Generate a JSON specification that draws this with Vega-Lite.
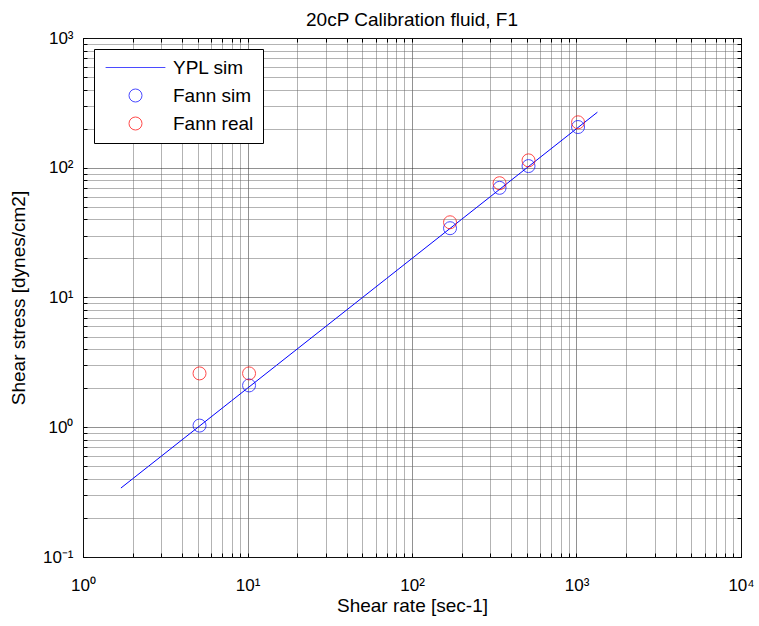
{
  "$schema": "https://vega.github.io/schema/vega-lite/v6.json",
  "width": 658,
  "height": 519,
  "autosize": {"type": "none"},
  "padding": {"left": 83, "top": 38, "right": 18, "bottom": 69},
  "background": "white",
  "title": {
    "text": "20cP Calibration fluid, F1",
    "font": "Liberation Sans",
    "fontSize": 19,
    "fontWeight": "normal",
    "color": "black",
    "anchor": "middle",
    "frame": "group",
    "baseline": "alphabetic",
    "offset": 3,
    "dy": 19
  },
  "config": {
    "view": {"stroke": "black", "strokeWidth": 1},
    "axis": {
      "labelFont": "Liberation Sans",
      "labelFontSize": 17,
      "labelColor": "black",
      "titleFont": "Liberation Sans",
      "titleFontSize": 19,
      "titleFontWeight": "normal",
      "titleColor": "black",
      "domain": false,
      "tickColor": "black",
      "tickSize": -4,
      "tickWidth": 1,
      "labelFlush": false,
      "labelOverlap": false,
      "gridDash": [1, 1],
      "gridWidth": 1
    }
  },
  "datasets": {
    "ypl": [
      {"rate": 1.7, "stress": 0.34},
      {"rate": 2.0, "stress": 0.40},
      {"rate": 2.5, "stress": 0.50},
      {"rate": 3.0, "stress": 0.60},
      {"rate": 4.0, "stress": 0.80},
      {"rate": 5.0, "stress": 1.0},
      {"rate": 6.0, "stress": 1.2},
      {"rate": 8.0, "stress": 1.6},
      {"rate": 10, "stress": 2.0},
      {"rate": 15, "stress": 3.0},
      {"rate": 20, "stress": 4.0},
      {"rate": 30, "stress": 6.0},
      {"rate": 50, "stress": 10},
      {"rate": 70, "stress": 14},
      {"rate": 100, "stress": 20},
      {"rate": 150, "stress": 30},
      {"rate": 200, "stress": 40},
      {"rate": 300, "stress": 60},
      {"rate": 500, "stress": 100},
      {"rate": 700, "stress": 140},
      {"rate": 1000, "stress": 200},
      {"rate": 1340, "stress": 268}
    ],
    "fann": [
      {"rate": 5.11, "stress": 1.03, "series": "Fann sim"},
      {"rate": 10.22, "stress": 2.1, "series": "Fann sim"},
      {"rate": 170.3, "stress": 34.2, "series": "Fann sim"},
      {"rate": 340.6, "stress": 70, "series": "Fann sim"},
      {"rate": 510.9, "stress": 103, "series": "Fann sim"},
      {"rate": 1021.8, "stress": 206, "series": "Fann sim"},
      {"rate": 5.11, "stress": 2.6, "series": "Fann real"},
      {"rate": 10.22, "stress": 2.6, "series": "Fann real"},
      {"rate": 170.3, "stress": 38, "series": "Fann real"},
      {"rate": 340.6, "stress": 76, "series": "Fann real"},
      {"rate": 510.9, "stress": 114, "series": "Fann real"},
      {"rate": 1021.8, "stress": 224, "series": "Fann real"}
    ]
  },
  "layer": [
    {
      "data": {"name": "ypl"},
      "mark": {"type": "line", "color": "#0000ff", "strokeWidth": 1},
      "encoding": {
        "x": {
          "field": "rate",
          "type": "quantitative",
          "scale": {"type": "log", "domain": [1, 10000], "nice": false},
          "axis": {
            "orient": "bottom",
            "title": "Shear rate [sec-1]",
            "titlePadding": 3,
            "labelPadding": 24,
            "values": [1,2,3,4,5,6,7,8,9,10,20,30,40,50,60,70,80,90,100,200,300,400,500,600,700,800,900,1000,2000,3000,4000,5000,6000,7000,8000,9000,10000],
            "labelExpr": "datum.value == 1 ? '10⁰' : datum.value == 10 ? '10¹' : datum.value == 100 ? '10²' : datum.value == 1000 ? '10³' : datum.value == 10000 ? '10⁴' : ''",
            "grid": true,
            "gridColor": {"condition": {"test": "datum.value == 1 || datum.value == 10 || datum.value == 100 || datum.value == 1000 || datum.value == 10000", "value": "#222222"}, "value": "#666666"}
          }
        },
        "y": {
          "field": "stress",
          "type": "quantitative",
          "scale": {"type": "log", "domain": [0.1, 1000], "nice": false},
          "axis": {
            "orient": "left",
            "title": "Shear stress [dynes/cm2]",
            "titlePadding": 14,
            "labelPadding": 14,
            "values": [0.1,0.2,0.3,0.4,0.5,0.6,0.7,0.8,0.9,1,2,3,4,5,6,7,8,9,10,20,30,40,50,60,70,80,90,100,200,300,400,500,600,700,800,900,1000],
            "labelExpr": "datum.value == 0.1 ? '10⁻¹' : datum.value == 1 ? '10⁰' : datum.value == 10 ? '10¹' : datum.value == 100 ? '10²' : datum.value == 1000 ? '10³' : ''",
            "grid": true,
            "gridColor": {"condition": {"test": "datum.value == 0.1 || datum.value == 1 || datum.value == 10 || datum.value == 100 || datum.value == 1000", "value": "#222222"}, "value": "#666666"}
          }
        }
      }
    },
    {
      "data": {"name": "fann"},
      "mark": {"type": "point", "filled": false, "size": 169, "strokeWidth": 1},
      "encoding": {
        "x": {
          "field": "rate",
          "type": "quantitative",
          "scale": {"type": "log", "domain": [1, 10000], "nice": false},
          "axis": {
            "orient": "top",
            "title": null,
            "labels": false,
            "grid": false,
            "values": [1,2,3,4,5,6,7,8,9,10,20,30,40,50,60,70,80,90,100,200,300,400,500,600,700,800,900,1000,2000,3000,4000,5000,6000,7000,8000,9000,10000]
          }
        },
        "y": {
          "field": "stress",
          "type": "quantitative",
          "scale": {"type": "log", "domain": [0.1, 1000], "nice": false},
          "axis": {
            "orient": "right",
            "title": null,
            "labels": false,
            "grid": false,
            "values": [0.1,0.2,0.3,0.4,0.5,0.6,0.7,0.8,0.9,1,2,3,4,5,6,7,8,9,10,20,30,40,50,60,70,80,90,100,200,300,400,500,600,700,800,900,1000]
          }
        },
        "color": {
          "field": "series",
          "type": "nominal",
          "scale": {"domain": ["YPL sim", "Fann sim", "Fann real"], "range": ["#0000ff", "#0000ff", "#ff0000"]},
          "legend": {
            "orient": "none",
            "legendX": 11,
            "legendY": 11,
            "title": null,
            "strokeColor": "black",
            "fillColor": "white",
            "padding": 9,
            "labelFont": "Liberation Sans",
            "labelFontSize": 19,
            "labelColor": "black",
            "labelOffset": 28,
            "symbolOffset": 23,
            "rowPadding": 8,
            "symbolSize": 169,
            "symbolStrokeWidth": 1
          }
        },
        "shape": {
          "field": "series",
          "type": "nominal",
          "scale": {"domain": ["YPL sim", "Fann sim", "Fann real"], "range": ["M-4.6,0L4.6,0", "circle", "circle"]},
          "legend": {
            "orient": "none",
            "legendX": 11,
            "legendY": 11,
            "title": null,
            "strokeColor": "black",
            "fillColor": "white",
            "padding": 9,
            "labelFont": "Liberation Sans",
            "labelFontSize": 19,
            "labelColor": "black",
            "labelOffset": 28,
            "symbolOffset": 23,
            "rowPadding": 8,
            "symbolSize": 169,
            "symbolStrokeWidth": 1
          }
        }
      }
    }
  ],
  "resolve": {"axis": {"x": "independent", "y": "independent"}}
}
